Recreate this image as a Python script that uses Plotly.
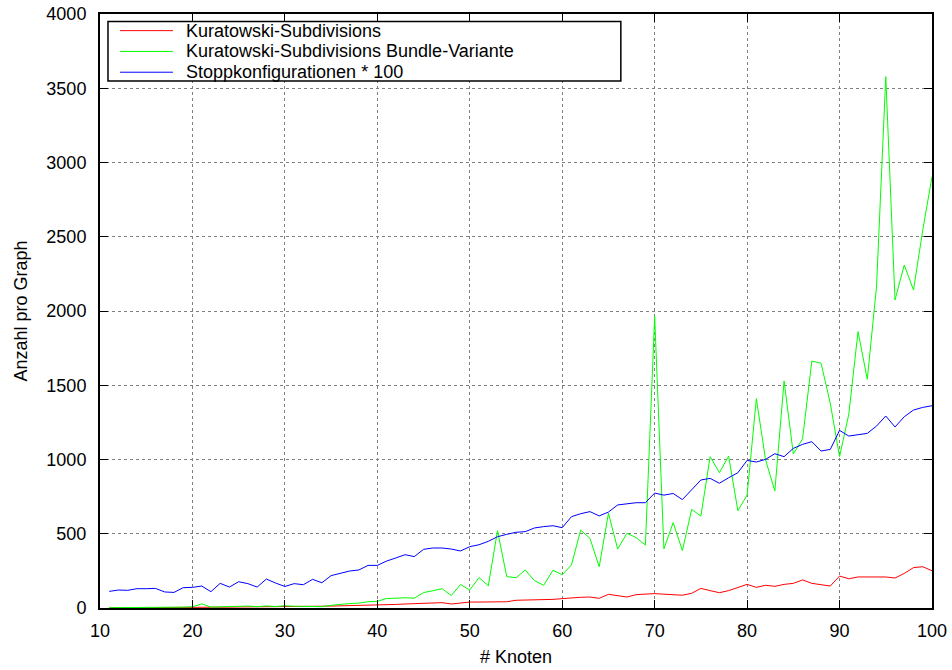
import plotly.graph_objects as go

knoten = list(range(11, 101))

kuratowski = [1, 1, 2, 2, 3, 3, 3, 4, 4, 5,
              5, 5, 6, 6, 7, 7, 8, 8, 9, 9,
              10, 10, 11, 12, 13, 14, 15, 16, 17, 18,
              20, 24, 27, 30, 34, 35, 36, 27, 34, 40,
              40, 40, 41, 42, 52, 53, 54, 58, 58, 63,
              70, 72, 74, 65, 92, 81, 74, 90, 92, 97,
              93, 90, 86, 99, 132, 117, 103, 117, 139, 159,
              139, 153, 146, 159, 166, 189, 166, 159, 148, 215,
              197, 209, 209, 209, 209, 202, 233, 272, 278, 251]

bundle = [2, 2, 3, 3, 4, 4, 5, 5, 6, 8,
          28, 6, 8, 10, 12, 13, 9, 14, 10, 15,
          12, 10, 12, 9, 18, 25, 30, 33, 42, 45,
          64, 66, 69, 66, 104, 116, 130, 84, 158, 121,
          205, 149, 521, 211, 204, 256, 184, 153, 254, 224,
          290, 525, 469, 278, 638, 397, 503, 474, 424, 1965,
          398, 575, 386, 664, 619, 1019, 911, 1023, 655, 761,
          1410, 997, 788, 1529, 1037, 1140, 1663, 1648, 1378, 1019,
          1305, 1861, 1540, 2164, 3578, 2074, 2310, 2141, 2545, 2904]

stopp = [112, 121, 119, 130, 130, 132, 108, 105, 137, 139,
         148, 110, 166, 141, 177, 164, 141, 195, 168, 145,
         164, 157, 193, 170, 218, 233, 249, 256, 287, 287,
         316, 337, 359, 346, 395, 404, 404, 397, 384, 413,
         426, 449, 480, 496, 510, 514, 539, 548, 554, 541,
         615, 635, 649, 620, 646, 694, 702, 709, 709, 774,
         760, 771, 730, 799, 862, 873, 840, 877, 911, 994,
         983, 1001, 1039, 1019, 1075, 1102, 1120, 1057, 1068, 1196,
         1158, 1167, 1176, 1225, 1293, 1219, 1288, 1333, 1351, 1362]

series_names = ["Kuratowski-Subdivisions",
                "Kuratowski-Subdivisions Bundle-Variante",
                "Stoppkonfigurationen * 100"]
series_colors = ["#ff0000", "#00ff00", "#0000ff"]

x_ticks = list(range(10, 101, 10))
y_ticks = list(range(0, 4001, 500))

FONT = "Liberation Sans, Arial, Helvetica, sans-serif"

fig = go.Figure()
for name, vals, col in zip(series_names, [kuratowski, bundle, stopp], series_colors):
    fig.add_trace(go.Scatter(x=knoten, y=vals, mode="lines", name=name,
                             line=dict(color=col, width=1), showlegend=False))

axis_common = dict(showline=True, linecolor="black", linewidth=2, mirror="allticks",
                   ticks="inside", ticklen=8, tickcolor="black", tickwidth=1,
                   showgrid=True, gridcolor="#808080", griddash="dot", gridwidth=1,
                   zeroline=False, automargin=False,
                   tickfont=dict(size=18, color="black", family=FONT))

fig.update_xaxes(range=[10, 100], tickvals=x_ticks, ticktext=[str(v) for v in x_ticks],
                 ticklabelstandoff=5,
                 title=dict(text="# Knoten", font=dict(size=18, color="black", family=FONT), standoff=11),
                 **axis_common)
fig.update_yaxes(range=[0, 4000], tickvals=y_ticks, ticktext=[str(v) for v in y_ticks],
                 ticklabelstandoff=8,
                 title=dict(text="Anzahl pro Graph", font=dict(size=18, color="black", family=FONT), standoff=14),
                 **axis_common)

# legend drawn in the gnuplot style: box, short line samples, labels
leg_box = dict(x0=0.0096, x1=0.626, y0=0.8872, y1=0.9874)
leg_line_x = (0.024, 0.0877)
leg_text_x = 0.1022
leg_rows_y = [0.9720, 0.9370, 0.9020]

shapes = [dict(type="rect", xref="paper", yref="paper", layer="above",
               fillcolor="white", line=dict(color="black", width=1.5), **leg_box)]
annotations = []
for name, col, yy in zip(series_names, series_colors, leg_rows_y):
    shapes.append(dict(type="line", xref="paper", yref="paper", layer="above",
                       x0=leg_line_x[0], x1=leg_line_x[1], y0=yy, y1=yy,
                       line=dict(color=col, width=1)))
    annotations.append(dict(xref="paper", yref="paper", x=leg_text_x, y=yy,
                            xanchor="left", yanchor="middle", showarrow=False,
                            borderpad=0,
                            text=name, font=dict(size=18, color="black", family=FONT)))

fig.update_layout(
    width=952, height=670,
    margin=dict(l=100, r=20, t=14, b=62),
    paper_bgcolor="white", plot_bgcolor="white",
    font=dict(family=FONT, size=18, color="black"),
    shapes=shapes, annotations=annotations,
    showlegend=False,
)

fig.write_html("out.html")
